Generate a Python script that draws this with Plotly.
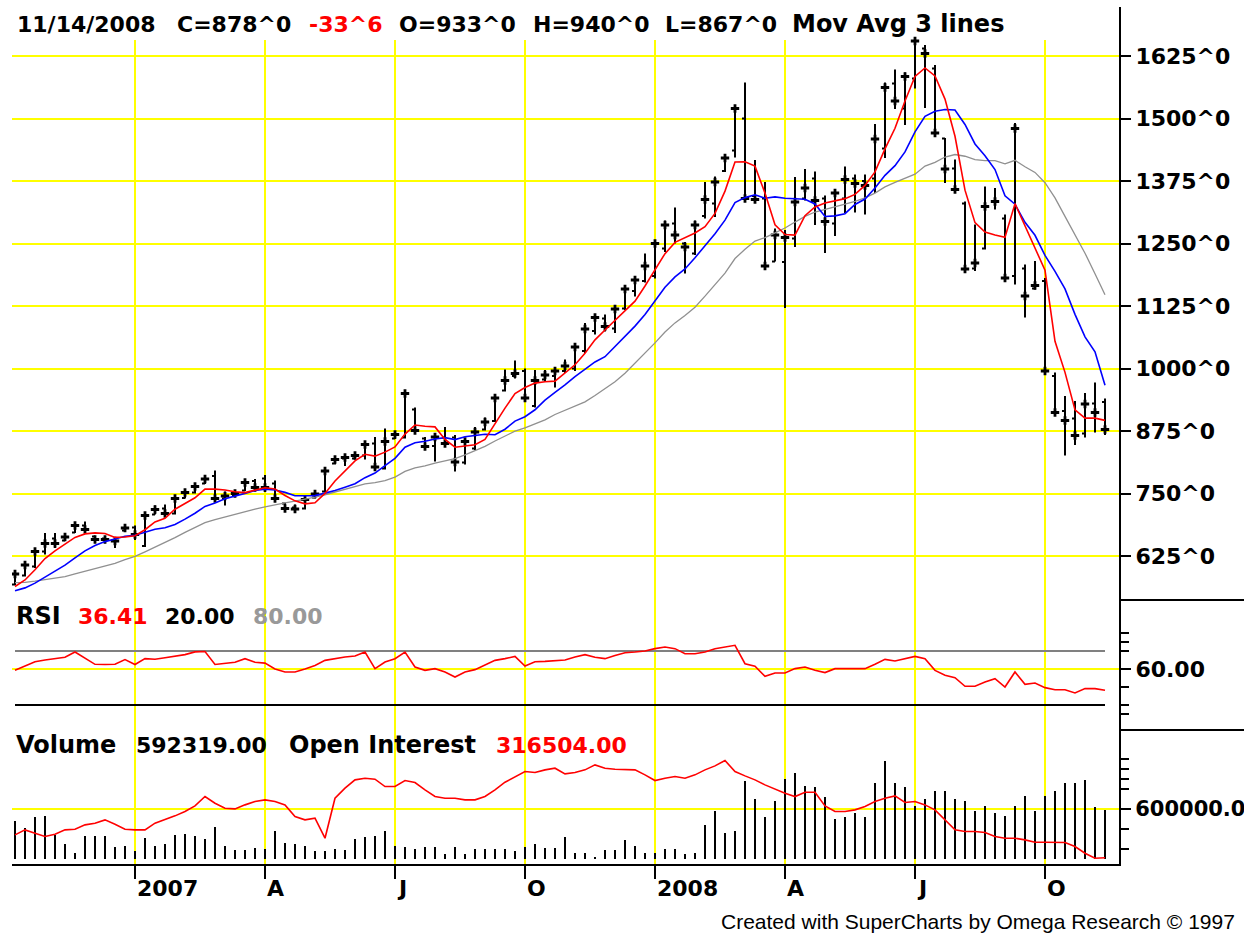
import pandas as pd
import plotly.graph_objects as go

# ---------------- data (weekly bars) ----------------
dates = pd.date_range(end="2008-11-14", periods=110, freq="W-FRI")

opens = [568, 586, 604, 634, 660, 656, 672, 686, 664, 660,
         656, 676, 682, 645, 708, 720, 710, 741, 752, 770,
         785, 740, 746, 756, 775, 780, 770, 730, 722, 720,
         742, 754, 810, 820, 820, 826, 850, 800, 860, 862,
         918, 860, 845, 862, 862, 812, 840, 878, 895, 956,
         985, 995, 925, 978, 985, 995, 1000, 1035, 1075, 1100,
         1080, 1120, 1155, 1175, 1185, 1240, 1290, 1250, 1230, 1305,
         1330, 1395, 1436, 1500, 1345, 1340, 1214, 1213, 1260, 1340,
         1380, 1340, 1290, 1340, 1380, 1375, 1380, 1440, 1570, 1520,
         1580, 1640, 1600, 1460, 1400, 1330, 1200, 1240, 1335, 1300,
         1185, 1200, 1160, 1175, 985, 915, 900, 870, 930, 933]
highs = [594, 613, 641, 671, 671, 669, 690, 694, 665, 665,
         658, 686, 686, 709, 726, 728, 742, 759, 769, 787,
         796, 754, 757, 776, 779, 787, 776, 732, 728, 741,
         752, 797, 821, 824, 831, 852, 863, 880, 873, 952,
         922, 863, 867, 883, 867, 857, 883, 902, 946, 998,
         1016, 1000, 997, 997, 1003, 1018, 1045, 1091, 1104, 1108,
         1121, 1164, 1180, 1230, 1251, 1296, 1322, 1253, 1296, 1373,
         1384, 1426, 1522, 1572, 1417, 1373, 1280, 1277, 1383, 1399,
         1394, 1346, 1354, 1404, 1388, 1388, 1489, 1572, 1598, 1592,
         1661, 1647, 1607, 1461, 1418, 1334, 1288, 1364, 1361, 1308,
         1491, 1208, 1215, 1181, 992, 945, 935, 951, 972, 940]
lows = [567, 584, 601, 628, 641, 655, 671, 671, 654, 651,
        641, 675, 657, 643, 708, 704, 708, 740, 750, 769,
        735, 726, 745, 755, 755, 753, 735, 715, 712, 718,
        740, 753, 808, 805, 818, 818, 800, 798, 859, 860,
        870, 837, 814, 844, 794, 808, 837, 876, 893, 954,
        980, 938, 922, 974, 962, 991, 995, 1031, 1068, 1074,
        1071, 1117, 1144, 1172, 1180, 1233, 1250, 1190, 1227, 1300,
        1303, 1393, 1422, 1336, 1333, 1204, 1214, 1121, 1243, 1336,
        1287, 1231, 1265, 1311, 1312, 1308, 1351, 1421, 1519, 1487,
        1560, 1521, 1469, 1371, 1354, 1191, 1195, 1238, 1318, 1175,
        1168, 1102, 1158, 995, 909, 826, 847, 862, 872, 867]
closes = [589, 607, 634, 650, 650, 663, 686, 678, 658, 658,
          655, 681, 668, 706, 718, 710, 740, 752, 764, 779,
          740, 745, 750, 772, 762, 762, 740, 720, 719, 738,
          749, 795, 818, 822, 826, 848, 803, 854, 868, 950,
          876, 844, 863, 850, 813, 854, 873, 893, 941, 976,
          990, 941, 976, 987, 995, 1005, 1043, 1079, 1102, 1084,
          1119, 1159, 1177, 1205, 1250, 1287, 1267, 1243, 1287, 1338,
          1373, 1421, 1520, 1340, 1338, 1205, 1267, 1262, 1333, 1361,
          1336, 1294, 1351, 1378, 1370, 1366, 1459, 1562, 1535, 1584,
          1655, 1630, 1471, 1399, 1358, 1199, 1211, 1324, 1334, 1181,
          1480, 1145, 1166, 995, 912, 896, 866, 929, 912, 878]
# closes before the first visible bar (implied by where the averages start)
prior_closes = [595, 590, 600, 605, 595, 590, 585, 570, 560, 555,
                548, 545, 545, 550, 555, 552, 560]
net_change = "-33^6"

rsi = [58.5, 63, 68, 70, 71.5, 73, 78.9, 72, 65.2, 65,
       65.2, 70.5, 65, 71.5, 70.8, 72.5, 74, 76, 79, 79.5,
       65, 66.3, 67.5, 71.5, 67.5, 66.5, 60, 56.7, 56.7, 60,
       64, 69.6, 71.5, 73.3, 74.4, 78.9, 60.4, 67.8, 71.5, 78.9,
       62.2, 58.5, 60.4, 56.7, 51.1, 56.7, 59.3, 64, 69.6, 71.5,
       74, 63.3, 68, 68.5, 69.6, 70, 73.3, 75.9, 73, 71.5,
       75, 78.1, 78.9, 80, 82.6, 84.4, 82.6, 77, 77, 78.9,
       82.6, 84.4, 86.3, 65.9, 63, 51.9, 55.6, 55.6, 60.4, 62.2,
       58.5, 56, 60.4, 60.4, 60.4, 60.4, 65.2, 70.7, 68.9, 71.5,
       74, 71.5, 58.5, 53, 50.4, 40.8, 40.8, 45.6, 49.3, 40,
       56.7, 43, 44.5, 39.3, 37, 37, 33.4, 38.2, 38.2, 36.41]
rsi_low, rsi_high = 20.0, 80.0

volume = [452000, 372000, 500000, 520000, 292000, 184000, 72000, 280000, 280000, 280000,
          140000, 160000, 92000, 252000, 160000, 184000, 292000, 300000, 280000, 240000,
          380000, 160000, 112000, 112000, 132000, 120000, 332000, 192000, 184000, 160000,
          92000, 92000, 120000, 104000, 240000, 264000, 280000, 332000, 160000, 140000,
          120000, 140000, 140000, 60000, 140000, 60000, 120000, 120000, 120000, 120000,
          92000, 140000, 184000, 132000, 132000, 260000, 72000, 72000, 20000, 112000,
          112000, 232000, 160000, 72000, 72000, 120000, 120000, 60000, 72000, 412000,
          572000, 312000, 332000, 932000, 720000, 500000, 692000, 960000, 1032000, 880000,
          860000, 740000, 480000, 500000, 552000, 500000, 912000, 1172000, 912000, 860000,
          632000, 720000, 812000, 812000, 720000, 692000, 580000, 640000, 552000, 520000,
          640000, 760000, 580000, 760000, 812000, 912000, 912000, 952000, 624000, 592319]
open_interest = [385000, 400000, 390000, 380000, 387000, 400000, 402000, 415000, 420000, 430000,
                 417000, 402000, 400000, 400000, 420000, 430000, 442000, 455000, 472000, 500000,
                 480000, 465000, 463000, 475000, 485000, 490000, 485000, 475000, 440000, 430000,
                 435000, 375000, 495000, 525000, 550000, 555000, 552000, 530000, 530000, 548000,
                 542000, 520000, 500000, 495000, 495000, 490000, 490000, 500000, 520000, 543000,
                 560000, 575000, 572000, 580000, 585000, 568000, 572000, 580000, 595000, 585000,
                 582000, 580000, 580000, 565000, 548000, 555000, 560000, 555000, 565000, 580000,
                 592000, 608000, 575000, 562000, 550000, 535000, 522000, 510000, 500000, 513000,
                 513000, 472000, 455000, 455000, 460000, 470000, 485000, 495000, 502000, 482000,
                 485000, 475000, 460000, 430000, 400000, 395000, 395000, 392000, 380000, 375000,
                 375000, 370000, 363000, 363000, 363000, 362000, 350000, 330000, 315000, 316504]

ma_lengths = [18, 9, 4]
ma_colors = ["#909090", "#0000ff", "#ff0000"]
ma_widths = [1.3, 1.6, 1.6]

quarter_starts = ["2007-01-01", "2007-04-01", "2007-07-01", "2007-10-01",
                  "2008-01-01", "2008-04-01", "2008-07-01", "2008-10-01"]
quarter_labels = ["2007", "A", "J", "O", "2008", "A", "J", "O"]
price_ticks = [625, 750, 875, 1000, 1125, 1250, 1375, 1500, 1625]
rsi_ticks = [60]
rsi_minor = [100, 90, 80, 40, 20, 10]
vol_ticks = [600000]
vol_minor = [1200000, 1080000, 960000, 840000, 360000, 120000]

# ---------------- geometry helpers ----------------
W, H = 1244, 935
ML, MR, MT, MB = 12, 125, 7, 71
PW, PH = W - ML - MR, H - MT - MB
BOTTOM = H - MB


def py(px):  # pixel row -> paper y
    return (BOTTOM - px) / PH


def pxx(px):  # pixel column -> paper x
    return (px - ML) / PW


YEL = "#ffff00"
FONT = "DejaVu Sans"

# moving averages of the closes
all_closes = pd.Series(prior_closes + closes, dtype=float)
mas = [all_closes.rolling(n).mean().iloc[len(prior_closes):].tolist() for n in ma_lengths]

# first bar of each quarter (grid positions)
grid_dates = [dates[dates >= pd.Timestamp(q)][0] for q in quarter_starts]

fig = go.Figure()

fig.add_trace(go.Ohlc(
    x=dates, open=opens, high=highs, low=lows, close=closes,
    increasing=dict(line=dict(color="black", width=2)),
    decreasing=dict(line=dict(color="black", width=2)),
    tickwidth=0.3, xaxis="x", yaxis="y", hoverinfo="skip", showlegend=False))
# close marks drawn as small crosses, as in the original bar style
fig.add_trace(go.Scatter(x=dates, y=closes, mode="markers",
                         marker=dict(symbol="cross", size=7, color="black",
                                     line=dict(width=0)),
                         xaxis="x", yaxis="y", hoverinfo="skip", showlegend=False))

for vals, col, w in zip(mas, ma_colors, ma_widths):
    fig.add_trace(go.Scatter(x=dates, y=vals, mode="lines",
                             line=dict(color=col, width=w),
                             xaxis="x", yaxis="y", hoverinfo="skip", showlegend=False))

fig.add_trace(go.Scatter(x=[dates[0], dates[-1]], y=[rsi_high, rsi_high], mode="lines",
                         line=dict(color="#808080", width=2), xaxis="x", yaxis="y2",
                         hoverinfo="skip", showlegend=False))
fig.add_trace(go.Scatter(x=[dates[0], dates[-1]], y=[rsi_low, rsi_low], mode="lines",
                         line=dict(color="black", width=2), xaxis="x", yaxis="y2",
                         hoverinfo="skip", showlegend=False))
fig.add_trace(go.Scatter(x=dates, y=rsi, mode="lines", line=dict(color="#ff0000", width=1.6),
                         xaxis="x", yaxis="y2", hoverinfo="skip", showlegend=False))

fig.add_trace(go.Bar(x=dates, y=volume, marker=dict(color="black", line=dict(width=0)),
                     width=1.3 * 86400000, xaxis="x", yaxis="y3",
                     hoverinfo="skip", showlegend=False))
fig.add_trace(go.Scatter(x=dates, y=open_interest, mode="lines",
                         line=dict(color="#ff0000", width=1.6),
                         xaxis="x", yaxis="y4", hoverinfo="skip", showlegend=False))

# ---------------- axes ----------------
x0 = dates[0] - pd.Timedelta(days=2.1)
x1 = dates[-1] + pd.Timedelta(days=9.8)
tickfont = dict(family=FONT, size=22, color="black", weight="bold")
axis_common = dict(side="right", showline=True, linecolor="black", linewidth=2,
                   ticks="outside", ticklen=10, tickwidth=2, tickcolor="black",
                   showgrid=True, gridcolor=YEL, gridwidth=2,
                   zeroline=False, fixedrange=True, anchor="x")

fig.update_layout(
    width=W, height=H,
    margin=dict(l=ML, r=MR, t=MT, b=MB, autoexpand=False),
    paper_bgcolor="white", plot_bgcolor="white",
    bargap=0, showlegend=False,
    xaxis=dict(type="date", range=[x0, x1], anchor="y3", domain=[0, 1],
               showline=True, linecolor="black", linewidth=2, showgrid=False,
               showticklabels=False, ticks="", zeroline=False,
               rangeslider=dict(visible=False), fixedrange=True),
    yaxis=dict(domain=[py(600), 1], range=[537, 1723], tickfont=tickfont,
               tickvals=price_ticks, ticktext=[f"{v}^0" for v in price_ticks],
               **axis_common),
    yaxis2=dict(domain=[py(730), py(600)], range=[-7.778, 136.667], tickfont=tickfont,
                tickvals=rsi_ticks, ticktext=[f"{v:.2f}" for v in rsi_ticks],
                minor=dict(tickvals=rsi_minor, ticklen=8, tickwidth=2, tickcolor="black",
                           ticks="outside", showgrid=False),
                **axis_common),
    yaxis3=dict(domain=[0, py(730)], range=[-60000, 1548000],
                tickfont=dict(family=FONT, size=21, color="black", weight="bold"),
                tickvals=vol_ticks, ticktext=[f"{v:.1f}" for v in vol_ticks],
                minor=dict(tickvals=vol_minor, ticklen=8, tickwidth=2, tickcolor="black",
                           ticks="outside", showgrid=False),
                **axis_common),
    yaxis4=dict(overlaying="y3", range=[297604, 699604], visible=False, fixedrange=True),
)

# ---------------- shapes ----------------
shapes = []
for d in grid_dates:
    shapes.append(dict(type="line", xref="x", yref="paper", x0=d, x1=d,
                       y0=0, y1=py(40), line=dict(color=YEL, width=2), layer="below"))
    shapes.append(dict(type="line", xref="x", yref="paper", x0=d, x1=d,
                       y0=0, y1=py(879), line=dict(color="black", width=2)))
for row in (600, 730):
    shapes.append(dict(type="line", xref="paper", yref="paper", x0=1, x1=pxx(W + 2),
                       y0=py(row), y1=py(row), line=dict(color="black", width=2)))
fig.update_layout(shapes=shapes)

# ---------------- texts ----------------
ann = []


def txt(s, xpix, ypix, color="black", size=22, bold=True, family=FONT):
    ann.append(dict(text=s, x=pxx(xpix), y=py(ypix), xref="paper", yref="paper",
                    xanchor="left", yanchor="middle", showarrow=False,
                    font=dict(family=family, size=size, color=color,
                              weight="bold" if bold else "normal")))


hdr_y = 24
txt(dates[-1].strftime("%m/%d/%Y"), 15, hdr_y)
txt(f"C={closes[-1]}^0", 175, hdr_y)
txt(net_change, 307, hdr_y, color="#ff0000")
txt(f"O={opens[-1]}^0", 397, hdr_y)
txt(f"H={highs[-1]}^0", 531, hdr_y)
txt(f"L={lows[-1]}^0", 663, hdr_y)
txt("Mov Avg 3 lines", 790, hdr_y, size=24)

txt("RSI", 14, 616, size=24)
txt(f"{rsi[-1]:.2f}", 76, 616, color="#ff0000")
txt(f"{rsi_low:.2f}", 163, 616)
txt(f"{rsi_high:.2f}", 251, 616, color="#999999")

txt("Volume", 14, 745, size=24)
txt(f"{volume[-1]:.2f}", 134, 745)
txt("Open Interest", 287, 745, size=24)
txt(f"{open_interest[-1]:.2f}", 494, 745, color="#ff0000")

for d, lab in zip(grid_dates, quarter_labels):
    ann.append(dict(text=lab, x=d, xref="x", y=py(888), yref="paper",
                    xanchor="left", yanchor="middle", xshift=0, showarrow=False,
                    font=dict(family=FONT, size=22, color="black", weight="bold")))

txt("Created with SuperCharts by Omega Research \u00a9 1997", 719, 921,
    size=21, bold=False, family="Liberation Sans")

fig.update_layout(annotations=ann)

fig.write_html("out.html", config={"displayModeBar": False, "staticPlot": True},
               post_script="document.body.style.margin='0';")
